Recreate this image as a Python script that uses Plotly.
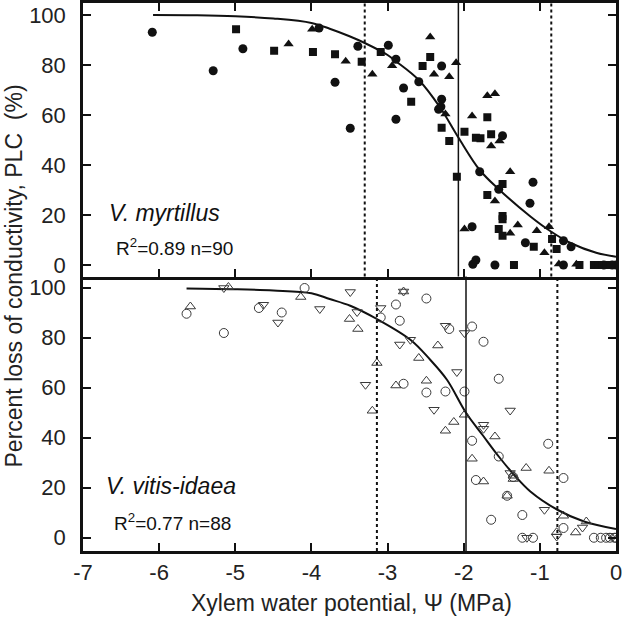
import plotly.graph_objects as go

# ---------------- data ----------------
# Top panel: V. myrtillus (filled symbols)
my_circ_x = [-6.09, -5.29, -4.90, -3.90, -3.69, -3.49, -3.39, -2.99, -2.89, -2.79, -2.59, -2.89,
             -2.29, -2.29, -2.30, -2.33, -1.49, -1.79, -1.09, -1.54, -1.13, -1.89, -1.19, -0.69,
             -0.59, -1.88, -1.84, -1.59, -0.69, -0.16, -0.05, 0.0]
my_circ_y = [93.1, 77.7, 86.5, 94.8, 73.1, 54.7, 87.5, 87.9, 82.3, 70.8, 73.3, 58.3,
             79.6, 66.3, 63.3, 62.3, 51.7, 37.3, 33.1, 30.3, 24.7, 15.3, 8.9, 9.7,
             7.3, 0.3, 2.0, 0.0, 0.0, 0.0, 0.0, 0.0]
my_sq_x = [-4.99, -4.49, -3.98, -3.69, -3.34, -3.09, -2.69, -2.44, -2.54, -2.29, -2.19, -1.99,
           -1.69, -1.84, -1.78, -1.64, -2.09, -1.49, -1.69, -1.49, -1.49, -1.54, -1.49, -1.08,
           -0.84, -0.78, -1.34, -0.48, -0.29, -0.23, -0.18, -0.12, -0.07]
my_sq_y = [94.3, 85.7, 85.2, 84.3, 81.3, 85.2, 65.3, 83.2, 79.6, 54.9, 49.6, 53.3,
           59.1, 50.9, 50.7, 52.3, 35.3, 32.4, 28.0, 19.6, 18.3, 14.4, 11.7, 7.3,
           10.4, 6.4, 0.0, 0.0, 0.0, 0.0, 0.0, 0.0, 0.0]
my_tri_x = [-4.30, -3.99, -3.55, -3.20, -2.94, -2.44, -2.39, -2.19, -2.10, -2.24, -1.89, -1.69,
            -1.59, -1.64, -1.53, -1.39, -1.59, -1.99, -1.39, -1.29, -1.04, -0.94, -0.88, -0.75,
            -0.52]
my_tri_y = [88.4, 94.3, 81.5, 76.3, 79.7, 91.2, 76.3, 75.3, 80.9, 60.4, 59.6, 67.7,
            68.5, 47.6, 49.6, 37.3, 25.6, 14.4, 12.7, 16.0, 13.7, 4.9, 15.3, 0.4,
            0.3]
my_curve_x = [-6.08, -5.5, -5.0, -4.5, -4.0, -3.76, -3.5, -3.3, -3.0, -2.89, -2.59, -2.31,
              -2.07, -1.79, -1.54, -1.12, -0.85, -0.59, -0.26, 0.0]
my_curve_y = [100, 99.9, 99.5, 98.6, 96.8, 94.5, 91.5, 88.8, 84.0, 81.5, 74.0, 63.0,
              51.0, 38.0, 30.3, 19.3, 13.3, 8.7, 4.9, 3.3]
my_p50 = -2.07
my_p12_p88 = [-3.30, -0.85]

# Bottom panel: V. vitis-idaea (open symbols)
vi_circ_x = [-5.64, -5.15, -4.69, -4.39, -4.09, -3.09, -2.89, -2.49, -2.84, -2.19, -1.89, -1.74,
             -2.79, -2.49, -2.24, -1.99, -1.54, -1.89, -0.89, -1.54, -1.35, -0.69, -1.84, -1.43,
             -1.64, -1.23, -0.69, -1.23, -1.09, -0.29, -0.20, -0.13, -0.08, -0.02, 0.0]
vi_circ_y = [89.6, 81.9, 91.9, 90.1, 99.9, 88.1, 93.3, 95.7, 86.8, 83.5, 84.5, 78.4,
             61.6, 58.1, 58.5, 58.5, 63.6, 38.8, 37.6, 32.5, 24.3, 23.9, 23.1, 16.8,
             7.2, 9.1, 3.9, 0.0, 0.0, 0.0, 0.0, 0.0, 0.0, 0.0, 0.0]
vi_up_x = [-5.59, -5.09, -4.14, -3.50, -3.39, -2.79, -3.14, -2.59, -2.34, -2.89, -2.49, -3.20,
           -1.99, -2.13, -2.24, -1.59, -1.89, -1.35, -1.35, -1.18, -0.88, -1.74, -1.43, -0.69,
           -0.53, -0.39, -0.78]
vi_up_y = [92.5, 100.3, 96.3, 87.5, 83.5, 98.5, 69.9, 71.9, 76.9, 60.9, 62.8, 50.8,
           49.2, 46.3, 42.8, 40.5, 31.6, 24.8, 23.5, 27.9, 26.8, 22.5, 16.8, 8.8,
           2.1, 6.5, 2.2]
vi_dn_x = [-5.15, -4.63, -4.44, -3.89, -3.49, -3.40, -3.09, -2.79, -2.84, -2.70, -2.24, -1.99,
           -2.09, -3.29, -2.39, -1.39, -1.74, -1.74, -1.39, -0.94, -0.44, -1.17, -0.78, -0.05]
vi_dn_y = [99.9, 93.2, 86.1, 91.5, 98.3, 90.3, 91.9, 98.5, 77.3, 79.2, 84.8, 81.9,
           66.3, 61.2, 51.2, 50.9, 45.2, 43.6, 25.9, 11.2, 4.1, 0.0, 0.5, 0.8]
vi_curve_x = [-5.64, -5.0, -4.5, -4.0, -3.76, -3.49, -3.14, -2.7, -2.44, -2.22, -1.97, -1.75,
              -1.54, -1.34, -1.125, -0.77, -0.42, 0.0]
vi_curve_y = [99.7, 99.4, 98.9, 97.8, 95.5, 92.8, 87.5, 79.2, 71.2, 63.2, 50.0, 41.0,
              32.5, 25.2, 18.5, 11.2, 6.5, 3.5]
vi_p50 = -1.97
vi_p12_p88 = [-3.14, -0.77]

x_ticks = [-7, -6, -5, -4, -3, -2, -1, 0]
y_ticks = [0, 20, 40, 60, 80, 100]

# ---------------- figure ----------------
FONT = "Liberation Sans, Arial, sans-serif"
fill_col = "#111111"
open_col = "#3a3a3a"

W, H = 624, 617
ML, MR, MT, MB = 83, 8, 3, 66
PW, PH = W - ML - MR, H - MT - MB
split = (H - MB - 276.5) / PH


def px_x(x):
    return (x - ML) / PW


def px_y(y):
    return (H - MB - y) / PH


fig = go.Figure()


def add_filled(x, y, sym, size):
    fig.add_trace(go.Scatter(x=x, y=y, mode="markers", xaxis="x2", yaxis="y2",
                             marker=dict(symbol=sym, size=size, color=fill_col,
                                         line=dict(width=0)),
                             showlegend=False, hoverinfo="x+y"))


def add_open(x, y, sym, size):
    fig.add_trace(go.Scatter(x=x, y=y, mode="markers", xaxis="x", yaxis="y",
                             marker=dict(symbol=sym, size=size, color=open_col,
                                         line=dict(width=1, color=open_col)),
                             showlegend=False, hoverinfo="x+y"))


# top panel
fig.add_trace(go.Scatter(x=my_curve_x, y=my_curve_y, mode="lines", xaxis="x2", yaxis="y2",
                         line=dict(color="#111", width=2, shape="spline"),
                         showlegend=False, hoverinfo="skip"))
add_filled(my_circ_x, my_circ_y, "circle", 9)
add_filled(my_sq_x, my_sq_y, "square", 8)
add_filled(my_tri_x, my_tri_y, "triangle-up", 9)

# bottom panel
fig.add_trace(go.Scatter(x=vi_curve_x, y=vi_curve_y, mode="lines", xaxis="x", yaxis="y",
                         line=dict(color="#111", width=2, shape="spline"),
                         showlegend=False, hoverinfo="skip"))
add_open(vi_circ_x, vi_circ_y, "circle-open", 9)
add_open(vi_up_x, vi_up_y, "triangle-up-open", 9)
add_open(vi_dn_x, vi_dn_y, "triangle-down-open", 9)

shapes = []
for xv, yref, xref in [(my_p50, "y2 domain", "x2"), (vi_p50, "y domain", "x")]:
    shapes.append(dict(type="line", xref=xref, yref=yref, x0=xv, x1=xv, y0=0, y1=1,
                       line=dict(color="#111", width=1.5)))
for xs, yref, xref in [(my_p12_p88, "y2 domain", "x2"), (vi_p12_p88, "y domain", "x")]:
    for xv in xs:
        shapes.append(dict(type="line", xref=xref, yref=yref, x0=xv, x1=xv, y0=0, y1=1,
                           line=dict(color="#111", width=2, dash="dot")))

axis_common = dict(showgrid=False, zeroline=False, showline=True, linecolor="#111",
                   linewidth=2.5, ticks="inside", ticklen=8, tickwidth=2, tickcolor="#111",
                   automargin=False,
                   tickfont=dict(family=FONT, size=22, color="#222"))

fig.update_layout(
    width=W, height=H,
    margin=dict(l=ML, r=MR, t=MT, b=MB, autoexpand=False),
    plot_bgcolor="white", paper_bgcolor="white",
    shapes=shapes,
    xaxis=dict(range=[-7, 0], domain=[0, 1], anchor="y", tickvals=x_ticks,
               ticktext=[str(v) for v in x_ticks], mirror=False, **axis_common),
    xaxis2=dict(range=[-7, 0], domain=[0, 1], anchor="y2", matches="x", tickvals=x_ticks,
                showticklabels=False, mirror="ticks", **axis_common),
    yaxis=dict(range=[-5.3, 104.5], domain=[0, split], anchor="x", tickvals=y_ticks,
               mirror="ticks", ticklabelstandoff=10, **axis_common),
    yaxis2=dict(range=[-4.6, 104.8], domain=[split, 1], anchor="x2", tickvals=y_ticks,
                mirror="ticks", ticklabelstandoff=10, **axis_common),
    annotations=[
        dict(text="Percent loss of conductivity, PLC  (%)", xref="paper", yref="paper",
             x=px_x(13), y=px_y(276.5), textangle=-90, showarrow=False, xanchor="center",
             yanchor="middle", font=dict(family=FONT, size=23, color="#222")),
        dict(text="Xylem water potential, \u03a8 (MPa)", xref="paper", yref="paper",
             x=px_x(351), y=px_y(603), showarrow=False, xanchor="center", yanchor="middle",
             font=dict(family=FONT, size=23, color="#222")),
        dict(text="<i>V. myrtillus</i>", xref="paper", yref="paper", x=px_x(107),
             y=px_y(213), showarrow=False, xanchor="left", yanchor="middle",
             font=dict(family=FONT, size=23, color="#111")),
        dict(text="R<sup>2</sup>=0.89 n=90", xref="paper", yref="paper", x=px_x(114),
             y=px_y(247), showarrow=False, xanchor="left", yanchor="middle",
             font=dict(family=FONT, size=19, color="#111")),
        dict(text="<i>V. vitis-idaea</i>", xref="paper", yref="paper", x=px_x(104),
             y=px_y(486), showarrow=False, xanchor="left", yanchor="middle",
             font=dict(family=FONT, size=23, color="#111")),
        dict(text="R<sup>2</sup>=0.77 n=88", xref="paper", yref="paper", x=px_x(112),
             y=px_y(522), showarrow=False, xanchor="left", yanchor="middle",
             font=dict(family=FONT, size=19, color="#111")),
    ],
)

fig.write_html("out.html", config={"displayModeBar": False},
               post_script="document.body.style.margin='0';document.body.style.padding='0';")
